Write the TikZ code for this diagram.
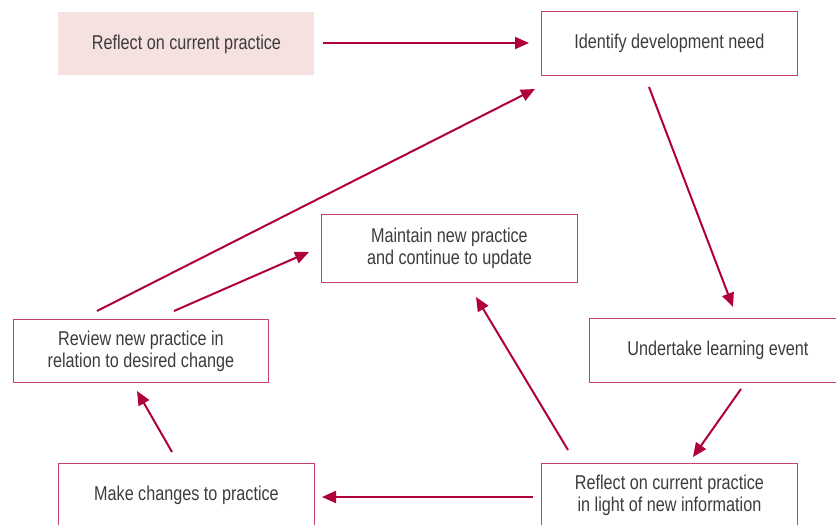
\documentclass[tikz,border=0pt]{standalone}
\usepackage{fontspec}
\setmainfont[FakeStretch=0.81]{Liberation Sans}
\usetikzlibrary{arrows.meta}
\definecolor{boxline}{HTML}{C8416A}
\definecolor{arrowc}{HTML}{B0003A}
\definecolor{txt}{HTML}{3C3C3C}
\definecolor{pinkfill}{HTML}{F5E1DF}
\tikzset{
  box/.style={draw=boxline, line width=0.9pt, rectangle, anchor=north west, inner sep=0pt,
    text=txt, align=center, font=\fontsize{20}{22}\selectfont},
  startbox/.style={box, draw=none, fill=pinkfill},
  arr/.style={draw=arrowc, line width=2pt, -{Triangle[length=14pt,width=12pt]}},
}
\begin{document}
\begin{tikzpicture}[x=1pt,y=-1pt]
\useasboundingbox (0,0) rectangle (836,525);
\clip (0,0) rectangle (836,525);
% boxes
\node[startbox, minimum width=256pt, minimum height=63pt] (reflect) at (58,12) {Reflect on current practice};
\node[box, minimum width=256pt, minimum height=64pt] (identify) at (541,11) {Identify development need};
\node[box, minimum width=256pt, minimum height=68pt] (maintain) at (321,214) {Maintain new practice\\and continue to update};
\node[box, minimum width=255pt, minimum height=63pt] (review) at (13,319) {Review new practice in\\relation to desired change};
\node[box, minimum width=257pt, minimum height=64pt] (undertake) at (589,318) {Undertake learning event};
\node[box, minimum width=256pt, minimum height=64pt] (make) at (58,463) {Make changes to practice};
\node[box, minimum width=256pt, minimum height=64pt] (reflight) at (541,463) {Reflect on current practice\\in light of new information};
% arrow end points
\coordinate (a1s) at (323,43);  \coordinate (a1e) at (529,43);
\coordinate (a2s) at (649,87);  \coordinate (a2e) at (733,307);
\coordinate (a3s) at (741,389); \coordinate (a3e) at (693,457);
\coordinate (a4s) at (568,450); \coordinate (a4e) at (476,297);
\coordinate (a5s) at (533,497); \coordinate (a5e) at (322,497);
\coordinate (a6s) at (172,452); \coordinate (a6e) at (137,391);
\coordinate (a7s) at (97,311);  \coordinate (a7e) at (535,89);
\coordinate (a8s) at (174,311); \coordinate (a8e) at (309,252);
% arrows
\draw[arr] (a1s) -- (a1e);
\draw[arr] (a2s) -- (a2e);
\draw[arr] (a3s) -- (a3e);
\draw[arr] (a4s) -- (a4e);
\draw[arr] (a5s) -- (a5e);
\draw[arr] (a6s) -- (a6e);
\draw[arr] (a7s) -- (a7e);
\draw[arr] (a8s) -- (a8e);
\end{tikzpicture}
\end{document}
